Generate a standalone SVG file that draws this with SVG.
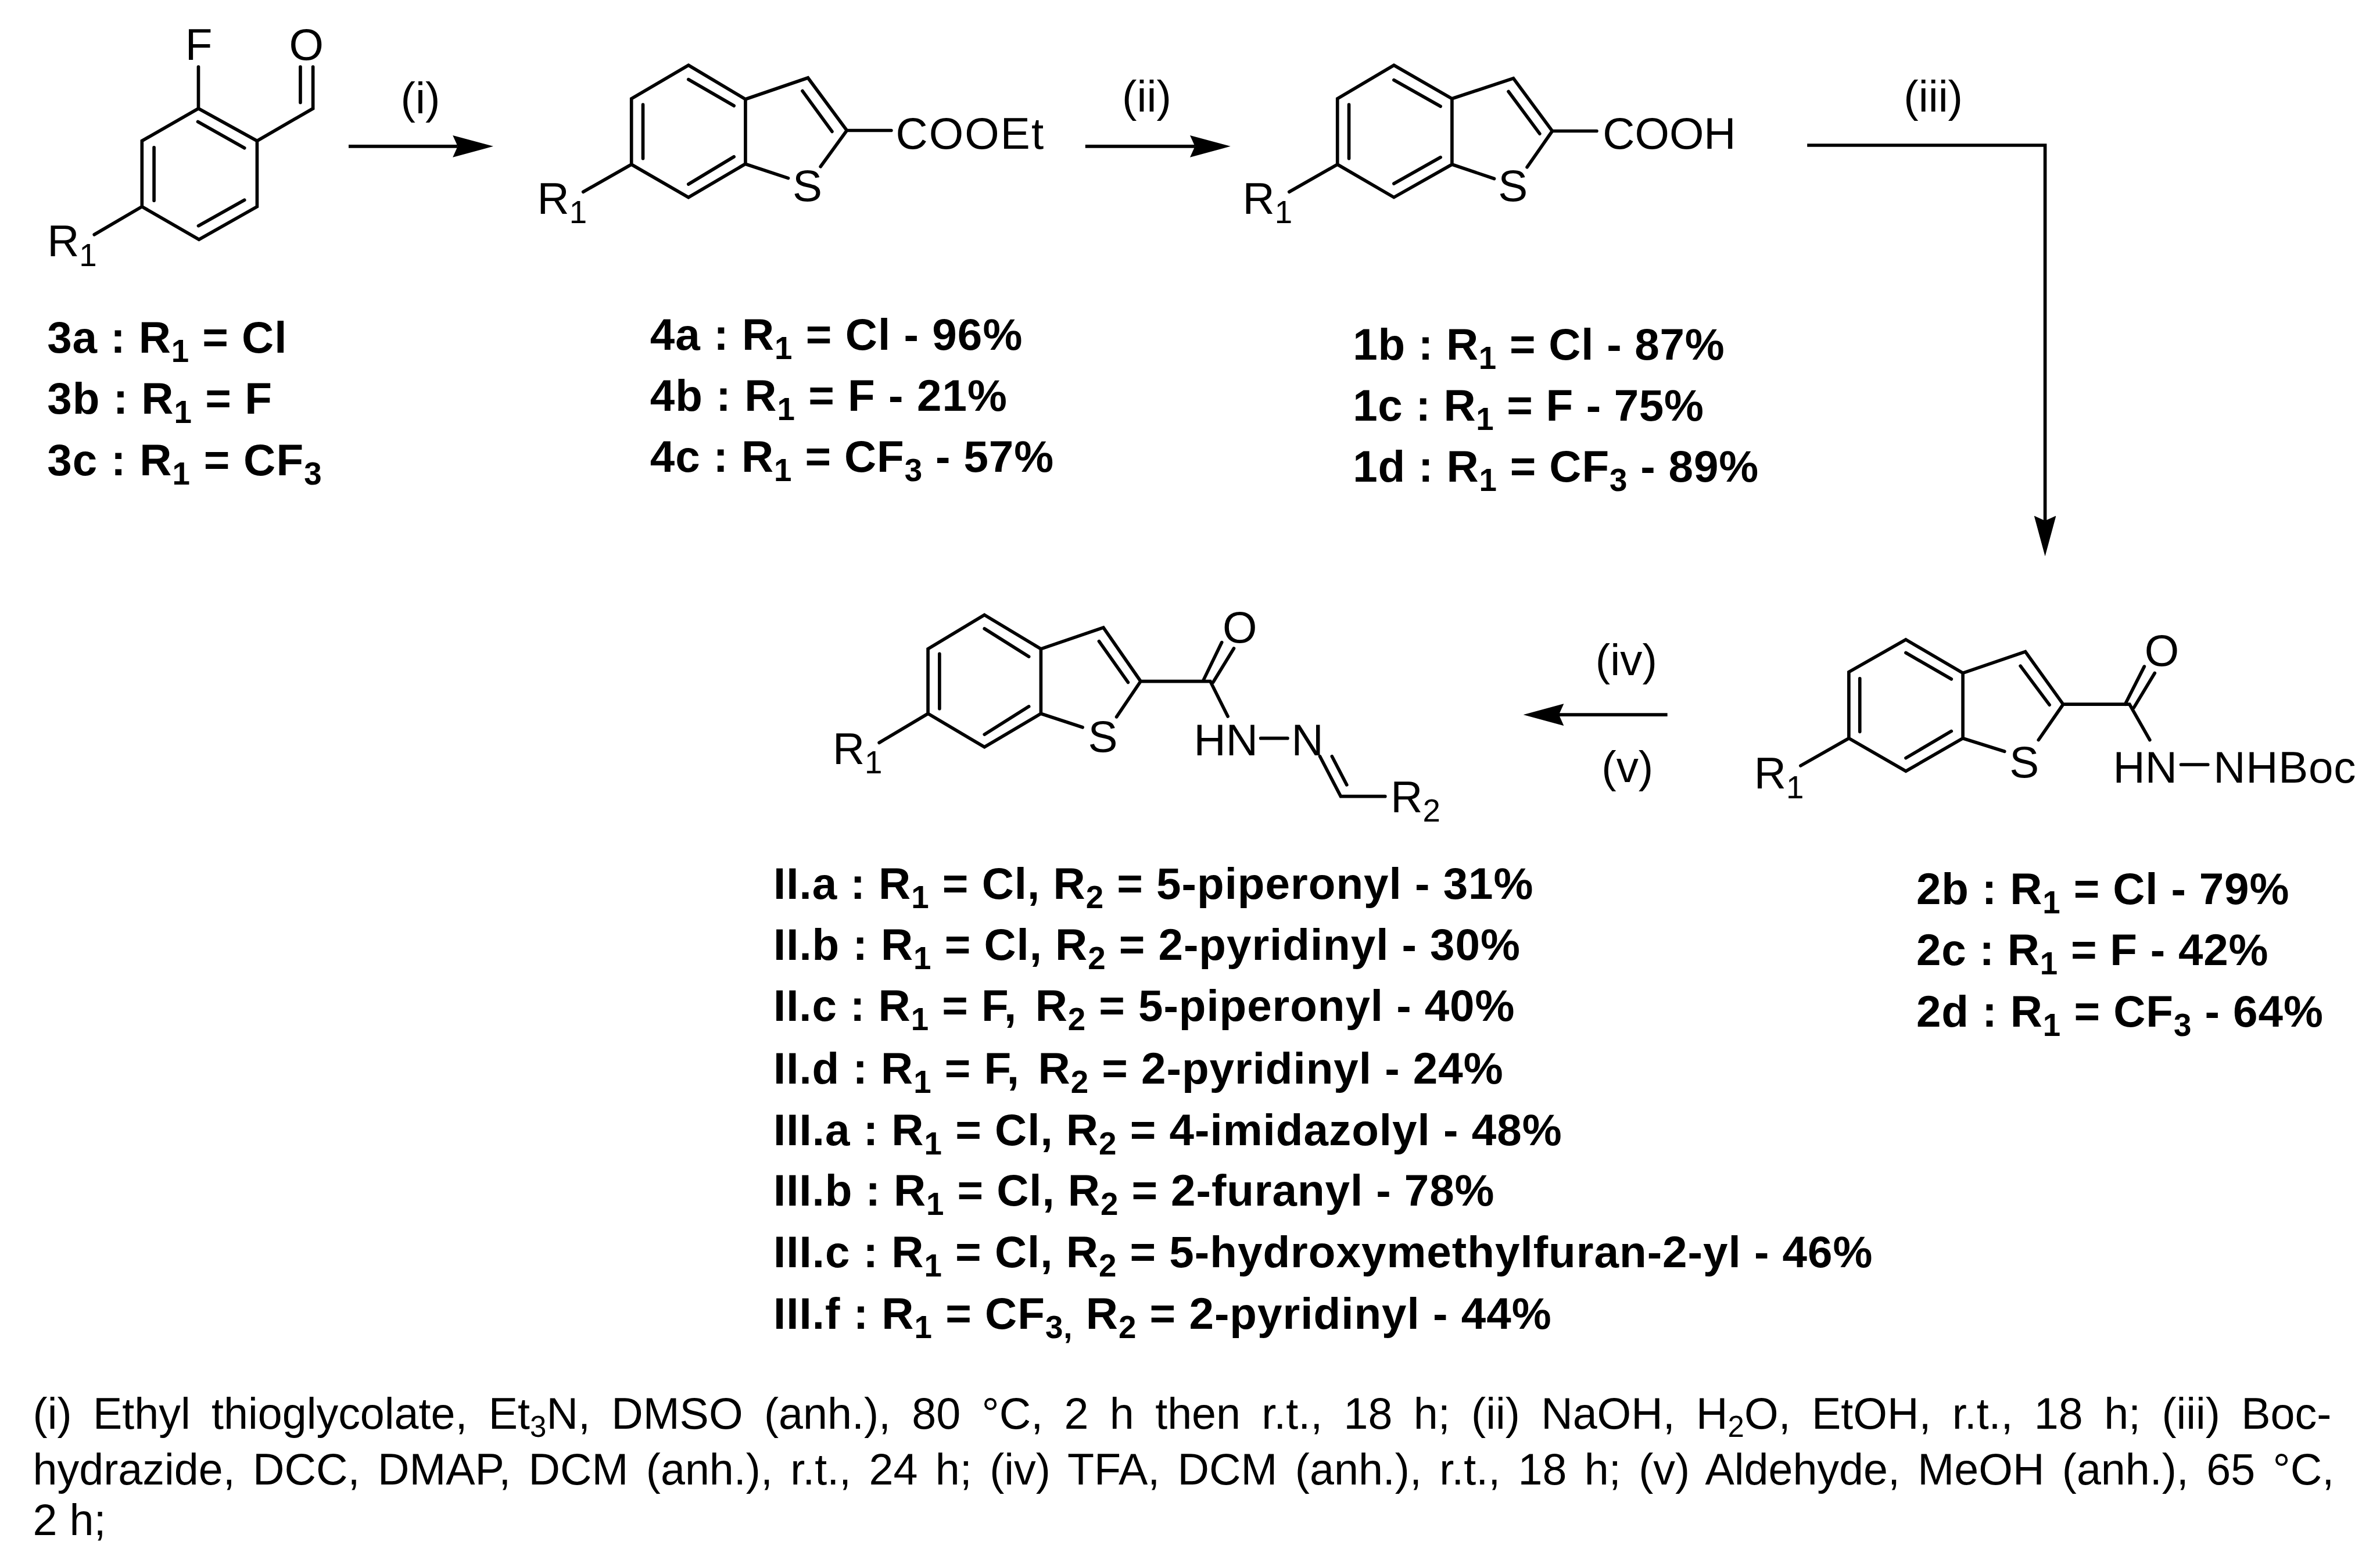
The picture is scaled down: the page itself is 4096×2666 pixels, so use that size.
<svg xmlns="http://www.w3.org/2000/svg" width="4096" height="2666" viewBox="0 0 4096 2666">
<style>
.b{fill:none;stroke:#000;stroke-width:6;stroke-linecap:round;stroke-linejoin:miter}
.a{fill:none;stroke:#000;stroke-width:6}
text{font-family:"Liberation Sans",Arial,sans-serif;fill:#000}
.t{font-size:81px}
.l{font-size:81px;font-weight:bold}
.f{font-size:80px}
.s{font-size:58px}
.fs{font-size:54px}
</style>
<defs>
<marker id="h" viewBox="0 0 74 40" refX="9" refY="20" markerWidth="74" markerHeight="40" markerUnits="userSpaceOnUse" orient="auto"><path d="M0 0L74 20L0 40L9 20Z" fill="#000"/></marker>
</defs>
<rect width="4096" height="2666" fill="#fff"/>
<g transform="scale(0.94334)">
<g id="connectors">
<path class="a" marker-end="url(#h)" d="M636 267H835"/>
<path class="a" marker-end="url(#h)" d="M1980 267H2180"/>
<path class="a" marker-end="url(#h)" d="M3297 265H3731V950"/>
<path class="a" marker-end="url(#h)" d="M3042 1304H2844"/>
<text class="t" x="767" y="207" text-anchor="middle">(i)</text>
<text class="t" x="2092" y="204" text-anchor="middle">(ii)</text>
<text class="t" x="3527" y="204" text-anchor="middle">(iii)</text>
<text class="t" x="2967" y="1232" text-anchor="middle">(iv)</text>
<text class="t" x="2969" y="1427" text-anchor="middle">(v)</text>
</g>
<g id="node-3">
<path class="b" d="M362 198L469 257V377L363 437L259 377V257ZM361 222L446 270M281 269V366M446 365L362 412M362 122V198M469 257L571 198V122M548 122V187M259 377L172 428"/>
<text class="t" x="338" y="109">F</text>
<text class="t" x="559" y="109" text-anchor="middle">O</text>
<text class="t" x="86" y="468">R<tspan class="s" dy="17">1</tspan></text>
<text class="l" x="86" y="643" textLength="437">3a : R<tspan class="s" dy="17">1</tspan><tspan dy="-17"> = Cl</tspan></text>
<text class="l" x="86" y="755" textLength="410">3b : R<tspan class="s" dy="17">1</tspan><tspan dy="-17"> = F</tspan></text>
<text class="l" x="86" y="867" textLength="501">3c : R<tspan class="s" dy="17">1</tspan><tspan dy="-17"> = CF</tspan><tspan class="s" dy="17">3</tspan></text>
</g>
<g id="node-4">
<path class="b" d="M1256 119L1360 181V299L1256 360L1152 300V180ZM1360 181L1474 142L1545 238L1497 304M1359 299L1438 325M1256 145L1339 193M1173 191V289M1256 336L1339 286M1464 166L1518 240M1545 238H1626M1152 300L1064 350"/>
<text class="t" x="1473" y="367" text-anchor="middle">S</text>
<text class="t" x="1634" y="271" textLength="270">COOEt</text>
<text class="t" x="980" y="390">R<tspan class="s" dy="17">1</tspan></text>
<text class="l" x="1186" y="638" textLength="679">4a : R<tspan class="s" dy="17">1</tspan><tspan dy="-17"> = Cl - 96%</tspan></text>
<text class="l" x="1186" y="749" textLength="651">4b : R<tspan class="s" dy="17">1</tspan><tspan dy="-17"> = F - 21%</tspan></text>
<text class="l" x="1186" y="861" textLength="736">4c : R<tspan class="s" dy="17">1</tspan><tspan dy="-17"> = CF</tspan><tspan class="s" dy="17">3</tspan><tspan dy="-17"> - 57%</tspan></text>
</g>
<g id="node-1">
<path class="b" d="M2543 119L2649 180V300L2543 360L2440 300V180ZM2649 180L2761 143L2832 239L2786 305M2649 300L2726 326M2543 146L2628 194M2461 191V289M2543 335L2628 287M2752 167L2809 244M2832 239H2913M2440 300L2352 350"/>
<text class="t" x="2760" y="367" text-anchor="middle">S</text>
<text class="t" x="2924" y="271">COOH</text>
<text class="t" x="2267" y="390">R<tspan class="s" dy="17">1</tspan></text>
<text class="l" x="2468" y="656" textLength="678">1b : R<tspan class="s" dy="17">1</tspan><tspan dy="-17"> = Cl - 87%</tspan></text>
<text class="l" x="2468" y="767" textLength="640">1c : R<tspan class="s" dy="17">1</tspan><tspan dy="-17"> = F - 75%</tspan></text>
<text class="l" x="2468" y="879" textLength="740">1d : R<tspan class="s" dy="17">1</tspan><tspan dy="-17"> = CF</tspan><tspan class="s" dy="17">3</tspan><tspan dy="-17"> - 89%</tspan></text>
</g>
<g id="node-2">
<path class="b" d="M3477 1167L3581 1228V1347L3477 1407L3373 1347V1226ZM3581 1228L3695 1189L3764 1285L3719 1350M3581 1347L3657 1371M3477 1191L3560 1239M3393 1238V1335M3477 1383L3560 1334M3686 1215L3739 1286M3764 1285H3885L3922 1350M3877 1285L3912 1216M3893 1291L3931 1228M3979 1395H4028M3373 1347L3285 1397"/>
<text class="t" x="3693" y="1418" text-anchor="middle">S</text>
<text class="t" x="3944" y="1215" text-anchor="middle">O</text>
<text class="t" x="3855" y="1428">HN</text>
<text class="t" x="4038" y="1428" textLength="260">NHBoc</text>
<text class="t" x="3200" y="1439">R<tspan class="s" dy="17">1</tspan></text>
<text class="l" x="3496" y="1649" textLength="680">2b : R<tspan class="s" dy="17">1</tspan><tspan dy="-17"> = Cl - 79%</tspan></text>
<text class="l" x="3496" y="1761" textLength="642">2c : R<tspan class="s" dy="17">1</tspan><tspan dy="-17"> = F - 42%</tspan></text>
<text class="l" x="3496" y="1873" textLength="742">2d : R<tspan class="s" dy="17">1</tspan><tspan dy="-17"> = CF</tspan><tspan class="s" dy="17">3</tspan><tspan dy="-17"> - 64%</tspan></text>
</g>
<g id="node-II">
<path class="b" d="M1796 1122L1899 1184V1302L1796 1363L1693 1302V1184ZM1899 1184L2013 1145L2081 1243L2037 1308M1899 1302L1975 1327M1796 1147L1877 1198M1714 1193V1293M1796 1340L1877 1289M2005 1170L2058 1245M2081 1243H2208L2240 1307M2195 1242L2229 1172M2213 1245L2251 1183M2300 1347H2349M2408 1380L2446 1453H2527M2430 1380L2457 1432M1693 1302L1604 1355"/>
<text class="t" x="2012" y="1372" text-anchor="middle">S</text>
<text class="t" x="2262" y="1172" text-anchor="middle">O</text>
<text class="t" x="2178" y="1378">HN</text>
<text class="t" x="2356" y="1378">N</text>
<text class="t" x="2537" y="1482">R<tspan class="s" dy="17">2</tspan></text>
<text class="t" x="1519" y="1394">R<tspan class="s" dy="17">1</tspan></text>
</g>
<g id="list-II-III">
<text class="l" x="1411" y="1640" textLength="1386">II.a : R<tspan class="s" dy="17">1</tspan><tspan dy="-17"> = Cl, R</tspan><tspan class="s" dy="17">2</tspan><tspan dy="-17"> = 5-piperonyl - 31%</tspan></text>
<text class="l" x="1411" y="1751" textLength="1362">II.b : R<tspan class="s" dy="17">1</tspan><tspan dy="-17"> = Cl, R</tspan><tspan class="s" dy="17">2</tspan><tspan dy="-17"> = 2-pyridinyl - 30%</tspan></text>
<text class="l" x="1411" y="1863" textLength="1352">II.c : R<tspan class="s" dy="17">1</tspan><tspan dy="-17"> = F, </tspan><tspan dx="10">R</tspan><tspan class="s" dy="17">2</tspan><tspan dy="-17"> = 5-piperonyl - 40%</tspan></text>
<text class="l" x="1411" y="1977" textLength="1331">II.d : R<tspan class="s" dy="17">1</tspan><tspan dy="-17"> = F, </tspan><tspan dx="10">R</tspan><tspan class="s" dy="17">2</tspan><tspan dy="-17"> = 2-pyridinyl - 24%</tspan></text>
<text class="l" x="1411" y="2089" textLength="1438">III.a : R<tspan class="s" dy="17">1</tspan><tspan dy="-17"> = Cl, R</tspan><tspan class="s" dy="17">2</tspan><tspan dy="-17"> = 4-imidazolyl - 48%</tspan></text>
<text class="l" x="1411" y="2200" textLength="1315">III.b : R<tspan class="s" dy="17">1</tspan><tspan dy="-17"> = Cl, R</tspan><tspan class="s" dy="17">2</tspan><tspan dy="-17"> = 2-furanyl - 78%</tspan></text>
<text class="l" x="1411" y="2312" textLength="2005">III.c : R<tspan class="s" dy="17">1</tspan><tspan dy="-17"> = Cl, R</tspan><tspan class="s" dy="17">2</tspan><tspan dy="-17"> = 5-hydroxymethylfuran-2-yl - 46%</tspan></text>
<text class="l" x="1411" y="2424" textLength="1419">III.f : R<tspan class="s" dy="17">1</tspan><tspan dy="-17"> = CF</tspan><tspan class="s" dy="17">3,</tspan><tspan dy="-17"> R</tspan><tspan class="s" dy="17">2</tspan><tspan dy="-17"> = 2-pyridinyl - 44%</tspan></text>
</g>
<g id="footnote">
<text class="f" x="60" y="2607" word-spacing="16.3">(i) Ethyl thioglycolate, Et<tspan class="fs" dy="15">3</tspan><tspan dy="-15">N, DMSO (anh.), 80 °C, 2 h then r.t., 18 h; (ii) NaOH, H</tspan><tspan class="fs" dy="15">2</tspan><tspan dy="-15">O, EtOH, r.t., 18 h; (iii) Boc-</tspan></text>
<text class="f" x="60" y="2708" word-spacing="10">hydrazide, DCC, DMAP, DCM (anh.), r.t., 24 h; (iv) TFA, DCM (anh.), r.t., 18 h; (v) Aldehyde, MeOH (anh.), 65 °C,</text>
<text class="f" x="60" y="2801">2 h;</text>
</g>
</g>
</svg>
